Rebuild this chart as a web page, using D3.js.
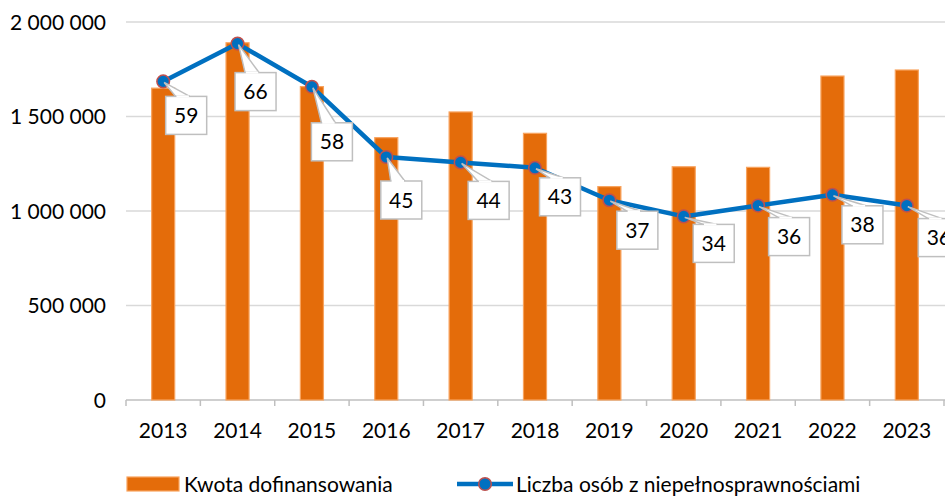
<!DOCTYPE html>
<html>
<head>
<meta charset="utf-8">
<script src="https://cdnjs.cloudflare.com/ajax/libs/d3/7.8.5/d3.min.js"></script>
<style>
  body { margin: 0; background: #fff; }
  text { font-family: Lato, "Open Sans", sans-serif; fill: #000; }
</style>
</head>
<body>
<div class="chart-container"></div>
<script>
var years = ["2013", "2014", "2015", "2016", "2017", "2018", "2019", "2020", "2021", "2022", "2023"];
var kwota = [1650000, 1890000, 1658000, 1388000, 1524000, 1411000, 1129000, 1234000, 1231000, 1714000, 1746000];
var liczba = [59, 66, 58, 45, 44, 43, 37, 34, 36, 38, 36];
var yTicks = [0, 500000, 1000000, 1500000, 2000000];

var barName = "Kwota dofinansowania",
    lineName = "Liczba osób z niepełnosprawnościami";

// label box offsets from each point (layout only)
var labelOffsets = [[23, 34], [18, 48], [20, 55], [15, 43], [28, 38], [25, 29], [28, 30], [30, 27], [31, 31], [30, 30], [32, 32]];

var width = 945, height = 496;
var margin = {top: 22, right: 1, bottom: 96, left: 126};
var fs = "21px";

var plX = d3.formatLocale({decimal: ",", thousands: "\u00a0", grouping: [3], currency: ["", " zł"]});
var fmt = plX.format(",d");

var svg = d3.select(".chart-container")
    .append("svg")
    .attr("width", width)
    .attr("height", height);

var x = d3.scaleBand()
    .domain(years)
    .range([margin.left, width - margin.right])
    .paddingInner(0.69)
    .paddingOuter(0.345);

var y = d3.scaleLinear()
    .domain([0, 2000000])
    .range([height - margin.bottom, margin.top]);

// secondary (hidden) axis for the line
var y2 = d3.scaleLinear()
    .domain([0, 70])
    .range([height - margin.bottom, margin.top]);

// gridlines
svg.append("g")
    .selectAll("line")
    .data(yTicks.filter(function (d) { return d > 0; }))
    .enter().append("line")
    .attr("x1", margin.left)
    .attr("x2", width)
    .attr("y1", function (d) { return y(d); })
    .attr("y2", function (d) { return y(d); })
    .attr("stroke", "#d9d9d9")
    .attr("stroke-width", 1.5);

// y labels
var yAxis = svg.append("g")
    .attr("transform", "translate(" + (margin.left - 20) + ",0)")
    .call(d3.axisLeft(y).tickValues(yTicks).tickSize(0).tickPadding(0).tickFormat(fmt));
yAxis.select(".domain").remove();
yAxis.selectAll("text").style("font-size", fs).attr("dy", "0.34em");

// x axis with category ticks
var step = x.step();
var xa = svg.append("g").attr("class", "x-axis");
xa.append("line")
    .attr("x1", margin.left).attr("x2", width)
    .attr("y1", y(0)).attr("y2", y(0))
    .attr("stroke", "#bfbfbf").attr("stroke-width", 1.5);
xa.selectAll(".tk")
    .data(d3.range(years.length + 1))
    .enter().append("line")
    .attr("class", "tk")
    .attr("x1", function (i) { return margin.left + i * step; })
    .attr("x2", function (i) { return margin.left + i * step; })
    .attr("y1", y(0)).attr("y2", y(0) + 6)
    .attr("stroke", "#bfbfbf").attr("stroke-width", 1.5);
xa.selectAll(".lbl")
    .data(years)
    .enter().append("text")
    .attr("class", "lbl")
    .attr("x", function (d) { return x(d) + x.bandwidth() / 2; })
    .attr("y", y(0) + 38)
    .attr("text-anchor", "middle")
    .style("font-size", fs)
    .text(function (d) { return d; });

// bars
svg.append("g")
    .selectAll("rect")
    .data(years)
    .enter().append("rect")
    .attr("x", function (d) { return x(d); })
    .attr("width", x.bandwidth())
    .attr("y", function (d, i) { return y(kwota[i]); })
    .attr("height", function (d, i) { return y(0) - y(kwota[i]); })
    .attr("fill", "#e46c0a")
    .attr("stroke", "#f8a35e")
    .attr("stroke-width", 1.2);

// line
var cx = function (i) { return x(years[i]) + x.bandwidth() / 2; };
var line = d3.line()
    .x(function (d, i) { return cx(i); })
    .y(function (d) { return y2(d); });

svg.append("path")
    .datum(liczba)
    .attr("d", line)
    .attr("fill", "none")
    .attr("stroke", "#0070c0")
    .attr("stroke-width", 4.5)
    .attr("stroke-linejoin", "round");

svg.append("g")
    .selectAll("circle")
    .data(liczba)
    .enter().append("circle")
    .attr("cx", function (d, i) { return cx(i); })
    .attr("cy", function (d) { return y2(d); })
    .attr("r", 6.3)
    .attr("fill", "#0070c0")
    .attr("stroke", "#c0504d")
    .attr("stroke-width", 1.5);

// callout labels
var bw = 41, bh = 38;
var callouts = svg.append("g")
    .selectAll("g")
    .data(liczba)
    .enter().append("g");

callouts.append("path")
    .attr("d", function (d, i) {
        var px = cx(i), py = y2(d);
        var left = px + labelOffsets[i][0] - bw / 2,
            top = py + labelOffsets[i][1] - bh / 2;
        return "M" + (px + 1) + "," + (py + 1) + "L" + (left + 10) + "," + top + "L" + (left + 24) + "," + top + "Z";
    })
    .attr("fill", "#fff")
    .attr("stroke", "#bfbfbf")
    .attr("stroke-width", 1.5);

callouts.append("rect")
    .attr("x", function (d, i) { return cx(i) + labelOffsets[i][0] - bw / 2; })
    .attr("y", function (d, i) { return y2(d) + labelOffsets[i][1] - bh / 2; })
    .attr("width", bw)
    .attr("height", bh)
    .attr("fill", "#fff")
    .attr("stroke", "#bfbfbf")
    .attr("stroke-width", 1.5);

// cover the seam between tail and box
callouts.append("line")
    .attr("x1", function (d, i) { return cx(i) + labelOffsets[i][0] - bw / 2 + 10.8; })
    .attr("x2", function (d, i) { return cx(i) + labelOffsets[i][0] - bw / 2 + 23.2; })
    .attr("y1", function (d, i) { return y2(d) + labelOffsets[i][1] - bh / 2; })
    .attr("y2", function (d, i) { return y2(d) + labelOffsets[i][1] - bh / 2; })
    .attr("stroke", "#fff")
    .attr("stroke-width", 2);

callouts.append("text")
    .attr("x", function (d, i) { return cx(i) + labelOffsets[i][0]; })
    .attr("y", function (d, i) { return y2(d) + labelOffsets[i][1]; })
    .attr("dy", "0.36em")
    .attr("text-anchor", "middle")
    .style("font-size", fs)
    .text(function (d) { return d; });

// legend
var lg = svg.append("g").attr("class", "legend");
lg.append("rect")
    .attr("x", 127).attr("y", 477)
    .attr("width", 52).attr("height", 14)
    .attr("fill", "#e46c0a")
    .attr("stroke", "#f8a35e")
    .attr("stroke-width", 1.2);
lg.append("text")
    .attr("x", 184).attr("y", 484)
    .attr("dy", "0.36em")
    .style("font-size", fs)
    .text(barName);
lg.append("line")
    .attr("x1", 457).attr("x2", 513)
    .attr("y1", 484).attr("y2", 484)
    .attr("stroke", "#0070c0")
    .attr("stroke-width", 4.5);
lg.append("circle")
    .attr("cx", 485).attr("cy", 484).attr("r", 6.3)
    .attr("fill", "#0070c0")
    .attr("stroke", "#c0504d")
    .attr("stroke-width", 1.5);
lg.append("text")
    .attr("x", 516).attr("y", 484)
    .attr("dy", "0.36em")
    .style("font-size", fs)
    .text(lineName);
</script>
</body>
</html>
